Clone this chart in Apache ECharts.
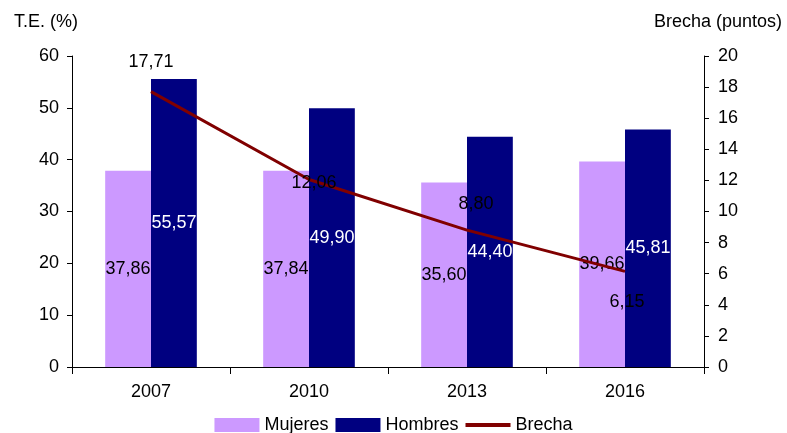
<!DOCTYPE html>
<html>
<head>
<meta charset="utf-8">
<script src="https://cdn.jsdelivr.net/npm/echarts@6/dist/echarts.min.js"></script>
<style>html,body{margin:0;padding:0;background:#fff}#c{width:787px;height:433px}</style>
</head>
<body>
<div id="c"></div>
<script>
const categories = ['2007', '2010', '2013', '2016'];
const mujeres = [37.86, 37.84, 35.60, 39.66];
const hombres = [55.57, 49.90, 44.40, 45.81];
const brecha = [17.71, 12.06, 8.80, 6.15];
const leftTicks = [0, 60, 10];
const rightTicks = [0, 20, 2];

const brechaLabelOffsets = [[0, -30], [5, 4], [9, -26], [2, 31]];
const fmt = v => v.toFixed(2).replace('.', ',');
const FONT = 'Liberation Sans, Arial, sans-serif';
const FS = 18;

const chart = echarts.init(document.getElementById('c'), null, {renderer: 'canvas'});
chart.setOption({
  animation: false,
  backgroundColor: '#fff',
  textStyle: {fontFamily: FONT},
  title: [
    {text: 'T.E. (%)', left: 9, top: 8, textStyle: {fontSize: FS, fontWeight: 'normal', color: '#000', fontFamily: FONT}},
    {text: 'Brecha (puntos)', right: 0, top: 8, textStyle: {fontSize: FS, fontWeight: 'normal', color: '#000', fontFamily: FONT}}
  ],
  grid: {left: 72, right: 83, top: 56, bottom: 66, containLabel: false},
  legend: {
    top: 411, left: 'center', itemWidth: 45, itemHeight: 14, itemGap: 7,
    textStyle: {fontSize: FS, color: '#000', fontFamily: FONT},
    data: [
      {name: 'Mujeres', icon: 'rect'},
      {name: 'Hombres', icon: 'rect'},
      {name: 'Brecha', icon: 'path://M0,0 L45,0 L45,4 L0,4 Z', itemStyle: {color: '#800000', opacity: 1}}
    ]
  },
  xAxis: {
    type: 'category', data: categories,
    axisLine: {lineStyle: {color: '#000', width: 1}},
    axisTick: {show: true, length: 7, lineStyle: {color: '#000'}},
    axisLabel: {fontSize: FS, color: '#000', margin: 16, fontFamily: FONT}
  },
  yAxis: [
    {
      type: 'value', min: leftTicks[0], max: leftTicks[1], interval: leftTicks[2],
      splitLine: {show: false},
      axisLine: {show: true, lineStyle: {color: '#000'}},
      axisTick: {show: true, length: 5, lineStyle: {color: '#000'}},
      axisLabel: {fontSize: FS, color: '#000', margin: 13, fontFamily: FONT}
    },
    {
      type: 'value', min: rightTicks[0], max: rightTicks[1], interval: rightTicks[2],
      splitLine: {show: false},
      axisLine: {show: true, lineStyle: {color: '#000'}},
      axisTick: {show: true, length: 5, lineStyle: {color: '#000'}},
      axisLabel: {fontSize: FS, color: '#000', margin: 14, fontFamily: FONT}
    }
  ],
  series: [
    {
      name: 'Mujeres', type: 'bar', data: mujeres, barWidth: '29%', barGap: '0%',
      itemStyle: {color: '#CC99FF'},
      label: {show: true, position: 'inside', formatter: p => fmt(p.value), color: '#000', fontSize: FS, fontFamily: FONT}
    },
    {
      name: 'Hombres', type: 'bar', data: hombres, barWidth: '29%', barGap: '0%',
      itemStyle: {color: '#000080'},
      label: {show: true, position: 'inside', formatter: p => fmt(p.value), color: '#fff', fontSize: FS, fontFamily: FONT}
    },
    {
      name: 'Brecha', type: 'line', yAxisIndex: 1, symbol: 'circle', symbolSize: 0.5, showSymbol: true, smooth: false,
      lineStyle: {color: '#800000', width: 3}, itemStyle: {color: '#800000'},
      label: {show: true, position: 'inside', formatter: p => fmt(p.value), color: '#000', fontSize: FS, fontFamily: FONT},
      data: brecha.map((v, i) => ({
        value: v,
        label: {offset: brechaLabelOffsets[i]}
      }))
    }
  ]
});
</script>
</body>
</html>
